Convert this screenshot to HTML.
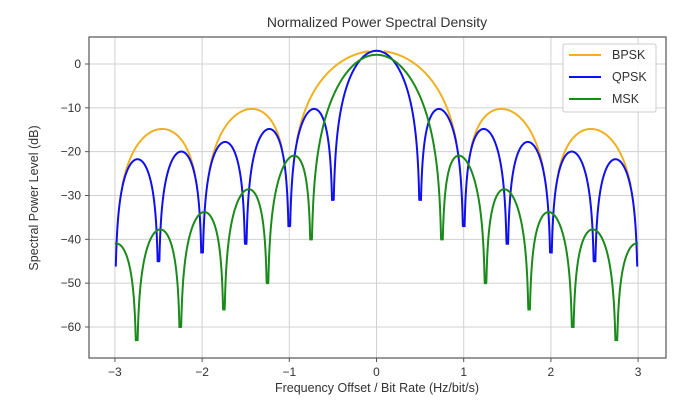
<!DOCTYPE html>
<html><head><style>body{margin:0;background:#fff}svg{display:block}text{font-family:"Liberation Sans","DejaVu Sans",sans-serif;fill:#333}</style></head>
<body>
<svg id="s" width="700" height="418" viewBox="0 0 700 418" xmlns="http://www.w3.org/2000/svg">
<text x="377" y="27" font-size="14" text-anchor="middle">Normalized Power Spectral Density</text>
<g id="grid" stroke="#d0d0d0" stroke-width="1"></g>
<g id="curves" fill="none" stroke-width="2"></g>
<rect x="89" y="37" width="577" height="321" fill="none" stroke="#555" stroke-width="1.2"/>
<g id="ticks" font-size="12"></g>
<text x="377" y="392" font-size="12.5" text-anchor="middle">Frequency Offset / Bit Rate (Hz/bit/s)</text>
<text transform="translate(38,198) rotate(-90)" font-size="12.5" text-anchor="middle">Spectral Power Level (dB)</text>
<rect x="563" y="44" width="93" height="68" fill="#fff" fill-opacity="0.85" stroke="#ccc" rx="2"/>
<line x1="569" y1="55" x2="601" y2="55" stroke="#f0b020" stroke-width="2"/>
<line x1="569" y1="77" x2="601" y2="77" stroke="#1010ee" stroke-width="2"/>
<line x1="569" y1="99" x2="601" y2="99" stroke="#1a8a1a" stroke-width="2"/>
<text x="612" y="59" font-size="12.5">BPSK</text>
<text x="612" y="81" font-size="12.5">QPSK</text>
<text x="612" y="103" font-size="12.5">MSK</text>
</svg>
<script>
var NS="http://www.w3.org/2000/svg";
function X(f){return 376.5+f*87.2;}
function Y(d){return 64-d*4.383;}
var g=document.getElementById('grid'),t=document.getElementById('ticks'),c=document.getElementById('curves');
function el(p,tag,a,txt){var e=document.createElementNS(NS,tag);for(var k in a)e.setAttribute(k,a[k]);if(txt!=null)e.textContent=txt;p.appendChild(e);return e;}
for(var i=-3;i<=3;i++){var x=X(i);el(g,'line',{x1:x,x2:x,y1:37,y2:358});el(t,'line',{x1:x,x2:x,y1:358,y2:362,stroke:'#555'});el(t,'text',{x:x,y:376,'text-anchor':'middle'},(i<0?'\u2212':'')+Math.abs(i));}
for(var d=0;d>=-60;d-=10){var y=Y(d);el(g,'line',{x1:89,x2:666,y1:y,y2:y});el(t,'line',{x1:85,x2:89,y1:y,y2:y,stroke:'#555'});el(t,'text',{x:81,y:y+4,'text-anchor':'end'},(d<0?'\u2212':'')+Math.abs(d));}
function sinc(x){if(Math.abs(x)<1e-12)return 1;return Math.sin(Math.PI*x)/(Math.PI*x);}
function db(v){return 10*Math.log10(Math.max(v,1e-30));}
var qf={0.5:-31,1:-37,1.5:-41,2:-43,2.5:-45,3:-46};
var mf={0.75:-40,1.25:-50,1.75:-56,2.25:-60,2.75:-63};
function floorQ(f){var k=Math.round(Math.abs(f)*2)/2;return qf[k]!==undefined?qf[k]:-66;}
function floorM(f){var k=Math.round((Math.abs(f)-0.25)*2)/2+0.25;return mf[k]!==undefined?mf[k]:-66;}
function B(f){return db(2*sinc(f)*sinc(f));}
function Q(f){return Math.max(db(2*sinc(2*f)*sinc(2*f)),floorQ(f));}
function M(f){var den=1-16*f*f;var v;if(Math.abs(den)<1e-6)v=db(16/Math.PI/Math.PI*Math.PI*Math.PI/64*4);else v=db(16/(Math.PI*Math.PI)*Math.pow(Math.cos(2*Math.PI*f),2)/(den*den));return Math.max(v,floorM(f));}
var N=3000,a=-3,b=3;
// BPSK: only where above QPSK
var p='',on=false;
for(var i=0;i<=N;i++){var f=a+(b-a)*i/N;var v=B(f);if(v>Q(f)+0.3){p+=(on?'L':'M')+X(f).toFixed(2)+','+Y(v).toFixed(2);on=true;}else on=false;}
el(c,'path',{d:p,stroke:'#f0b020'});
[['#1010ee',Q],['#1a8a1a',M]].forEach(function(s){var p='';for(var i=0;i<=N;i++){var f=a+(b-a)*i/N;var v=s[1](f);p+=(i?'L':'M')+X(f).toFixed(2)+','+Y(v).toFixed(2);}el(c,'path',{d:p,stroke:s[0]});});
</script>
</body></html>
